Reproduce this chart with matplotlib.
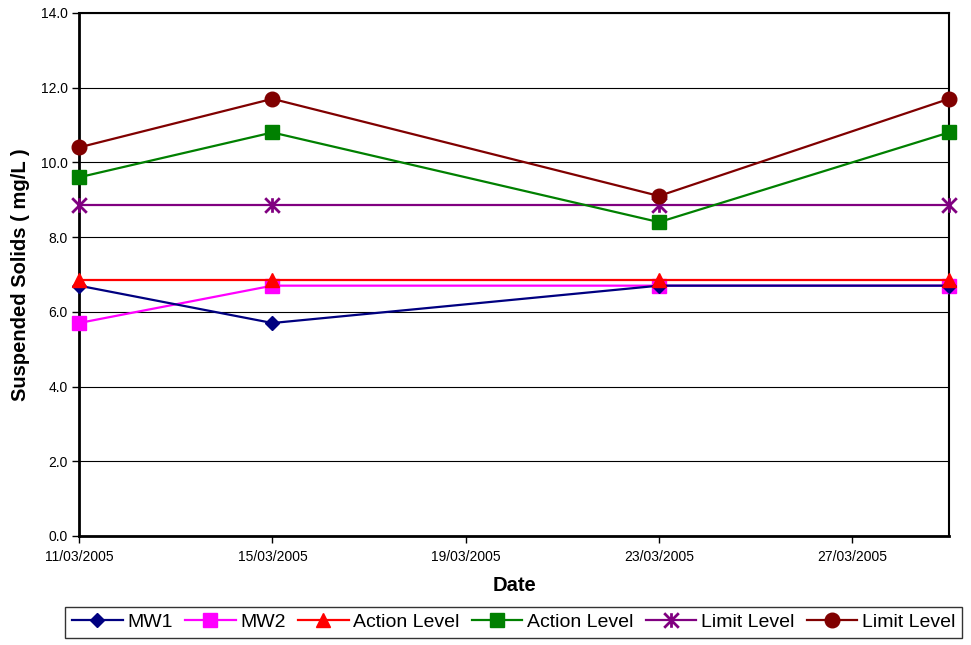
import matplotlib
matplotlib.use("Agg")
import matplotlib.pyplot as plt
from matplotlib.path import Path
import pandas as pd

# Sampling dates and measured / threshold series (mg/L)
dates = ["2005-03-11", "2005-03-15", "2005-03-23", "2005-03-29"]
mw1 = [6.7, 5.7, 6.7, 6.7]
mw2 = [5.7, 6.7, 6.7, 6.7]
action_level_const = [6.86, 6.86, 6.86, 6.86]
action_level_var = [9.6, 10.8, 8.4, 10.8]
limit_level_const = [8.87, 8.87, 8.87, 8.87]
limit_level_var = [10.4, 11.7, 9.1, 11.7]

x_tick_dates = ["2005-03-11", "2005-03-15", "2005-03-19", "2005-03-23", "2005-03-27"]
x_tick_labels = ["11/03/2005", "15/03/2005", "19/03/2005", "23/03/2005", "27/03/2005"]
y_ticks = [0.0, 2.0, 4.0, 6.0, 8.0, 10.0, 12.0, 14.0]

plt.rcParams["font.family"] = ["Liberation Sans", "DejaVu Sans"]

x = pd.to_datetime(dates)

# Asterisk marker: an X with a vertical stroke through it
star_path = Path(
    [(-1, -1), (1, 1), (-1, 1), (1, -1), (0, -1), (0, 1)],
    [Path.MOVETO, Path.LINETO, Path.MOVETO, Path.LINETO, Path.MOVETO, Path.LINETO],
)

fig = plt.figure(figsize=(9.71, 6.45), dpi=100)
ax = fig.add_axes([0.0814, 0.169, 0.896, 0.811])

lw = 1.6
common = dict(lw=lw, clip_on=False)
ax.plot(x, mw1, color="#000080", marker="D", ms=7.5, label="MW1", zorder=5, **common)
ax.plot(x, mw2, color="#FF00FF", marker="s", ms=9.5, label="MW2", zorder=4, **common)
ax.plot(x, action_level_const, color="#FF0000", marker="^", ms=10.5,
        label="Action Level", zorder=6, **common)
ax.plot(x, action_level_var, color="#008000", marker="s", ms=9.5,
        label="Action Level", zorder=4, **common)
ax.plot(x, limit_level_const, color="#800080", marker=star_path, ms=10.5,
        mew=2.0, mfc="none", mec="#800080", label="Limit Level", zorder=3, **common)
ax.plot(x, limit_level_var, color="#800000", marker="o", ms=10.5,
        label="Limit Level", zorder=5, **common)

ax.set_xlim(pd.Timestamp("2005-03-11"), pd.Timestamp("2005-03-29"))
ax.set_ylim(0, 14)
ax.set_yticks(y_ticks)
ax.set_yticklabels([f"{v:.1f}" for v in y_ticks])
ax.set_xticks(pd.to_datetime(x_tick_dates))
ax.set_xticklabels(x_tick_labels)

ax.yaxis.grid(True, color="black", lw=0.8)
ax.set_axisbelow(True)
ax.tick_params(axis="both", labelsize=10, length=5, width=1, direction="out",
               colors="black", pad=3)
ax.tick_params(axis="x", pad=5)

for side in ["left", "bottom"]:
    ax.spines[side].set_linewidth(2)
for side in ["top", "right"]:
    ax.spines[side].set_linewidth(1.5)
for s in ax.spines.values():
    s.set_color("black")

ax.set_xlabel("Date", fontsize=14.5, fontweight="bold", labelpad=9)
ax.set_ylabel("Suspended Solids ( mg/L )", fontsize=14.5, fontweight="bold", labelpad=8)

leg = fig.legend(loc="center", bbox_to_anchor=(0.529, 0.0349), ncol=6,
                 fontsize=14, frameon=True, fancybox=False, edgecolor="black",
                 handlelength=2.6, handletextpad=0.25, columnspacing=0.62,
                 borderpad=0.35, borderaxespad=0)
leg.get_frame().set_linewidth(1.0)

fig.savefig("out.png", dpi=100, facecolor="white")
